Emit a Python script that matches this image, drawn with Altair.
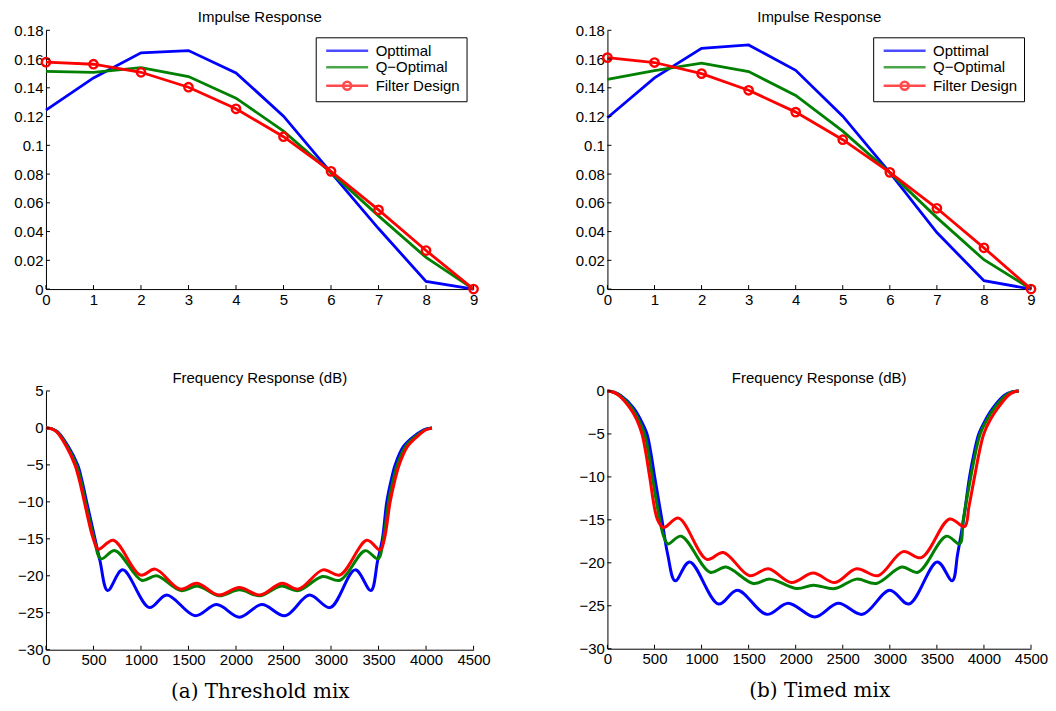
import altair as alt
import pandas as pd

SERIES = ["Opttimal", "Q−Optimal", "Filter Design"]
COLORS = ["#0000ff", "#008000", "#ff0000"]

# ---------------- impulse responses (taps 0..9) ----------------
taps = [0, 1, 2, 3, 4, 5, 6, 7, 8, 9]
a_opt = [0.1245, 0.1469, 0.1643, 0.1659, 0.1504, 0.1203, 0.0810, 0.0421, 0.0053, 0.0]
a_qopt = [0.1515, 0.1508, 0.1541, 0.1478, 0.1328, 0.1099, 0.0810, 0.0509, 0.0220, 0.0]
a_fd = [0.1578, 0.1564, 0.1508, 0.1404, 0.1254, 0.1060, 0.0819, 0.0551, 0.0268, 0.0]
b_opt = [0.1192, 0.1469, 0.1675, 0.1698, 0.1522, 0.1203, 0.0810, 0.0393, 0.0058, 0.0]
b_qopt = [0.1458, 0.1520, 0.1571, 0.1513, 0.1347, 0.1099, 0.0810, 0.0497, 0.0204, 0.0]
b_fd = [0.1610, 0.1576, 0.1499, 0.1383, 0.1231, 0.1039, 0.0812, 0.0562, 0.0287, 0.0]

# ---------------- frequency responses (Hz, dB) ----------------
# (a) Threshold mix
fa_opt_f = [0, 60, 120, 235, 333, 380, 428, 516, 569, 649, 807, 1088, 1271, 1569, 1797, 2036, 2271,
            2517, 2773, 2991, 3254, 3419, 3490, 3541, 3587, 3631, 3675, 3763, 3886, 3975, 4062]
fa_opt_db = [0, -0.12, -0.5, -2.5, -5, -7.2, -10, -15, -18, -22.0, -19.2, -24.3, -22.6, -25.4, -23.9, -25.6, -23.9,
             -25.4, -22.6, -24.3, -19.2, -22.0, -18, -15, -10, -7.2, -5, -2.5, -1, -0.25, 0]
fa_q_f = [0, 60, 115, 225, 320, 368, 416, 507, 579, 727, 1007, 1165, 1420, 1600, 1820, 2036, 2250,
          2470, 2655, 2910, 3096, 3359, 3493, 3552, 3605, 3651, 3697, 3785, 3905, 3990, 4062]
fa_q_db = [0, -0.1, -0.5, -2.5, -5, -7.2, -10, -15, -17.7, -16.6, -20.6, -20.0, -22.0, -21.4, -22.7, -21.9, -22.7,
           -21.4, -22.0, -20.1, -20.6, -16.6, -17.7, -15, -10, -7.2, -5, -2.5, -1, -0.25, 0]
fa_fd_f = [0, 55, 110, 215, 305, 354, 404, 498, 551, 709, 995, 1150, 1411, 1590, 1815, 2036, 2254,
           2482, 2657, 2915, 3093, 3377, 3517, 3562, 3622, 3670, 3717, 3805, 3921, 4000, 4062]
fa_fd_db = [0, -0.1, -0.5, -2.5, -5, -7.2, -10, -15, -16.4, -15.2, -19.9, -19.1, -21.8, -21.0, -22.6, -21.6, -22.6,
            -21.0, -21.8, -19.2, -19.9, -15.2, -16.5, -15, -10, -7.2, -5, -2.5, -1, -0.25, 0]

# (b) Timed mix
fb_opt_f = [0, 70, 138, 279, 350, 420, 461, 502, 579, 640, 720, 873, 1180, 1380, 1692, 1921, 2204,
            2451, 2709, 2999, 3203, 3504, 3663, 3720, 3783, 3847, 3896, 3945, 4020, 4094, 4218, 4295, 4370]
fb_opt_db = [0, -0.15, -0.5, -2, -3.3, -5, -7.2, -10, -15, -19, -22.1, -19.9, -24.8, -23.2, -26.0, -24.7, -26.3,
             -24.7, -26.0, -23.2, -24.8, -19.9, -22.1, -19, -15, -10, -7.2, -5, -3.3, -2, -0.5, -0.12, 0]
fb_q_f = [0, 68, 135, 260, 330, 395, 436, 477, 556, 600, 643, 784, 1091, 1261, 1550, 1727, 2013, 2186,
          2416, 2646, 2857, 3126, 3299, 3600, 3741, 3780, 3860, 3910, 3960, 4035, 4110, 4235, 4300, 4370]
fb_q_db = [0, -0.15, -0.55, -2, -3.3, -5, -7.2, -10, -15, -17, -17.8, -16.9, -21.1, -20.5, -22.4, -21.9, -23.0,
           -22.6, -23.0, -21.9, -22.4, -20.5, -21.1, -16.9, -17.8, -15, -10, -7.2, -5, -3.3, -2, -0.5, -0.12, 0]
fb_fd_f = [0, 65, 130, 240, 310, 367, 408, 449, 533, 597, 756, 1056, 1232, 1510, 1709, 1957, 2186,
           2416, 2646, 2875, 3140, 3335, 3635, 3794, 3840, 3900, 3949, 3998, 4070, 4147, 4260, 4320, 4370]
fb_fd_db = [0, -0.15, -0.6, -2, -3.3, -5, -7.2, -10, -15, -15.9, -14.8, -19.6, -18.8, -21.5, -20.7, -22.3, -21.2,
            -22.3, -20.7, -21.5, -18.7, -19.4, -14.9, -15.8, -13.5, -10, -7.2, -5, -3.3, -2, -0.5, -0.12, 0]

# tick values
imp_y_ticks = [0, 0.02, 0.04, 0.06, 0.08, 0.1, 0.12, 0.14, 0.16, 0.18]
freq_x_ticks = [0, 500, 1000, 1500, 2000, 2500, 3000, 3500, 4000, 4500]
fa_y_ticks = [-30, -25, -20, -15, -10, -5, 0, 5]
fb_y_ticks = [-30, -25, -20, -15, -10, -5, 0]

FONT = "Liberation Sans"
FS = 15
TICK = 4

# legend symbols (unit = half of sqrt(symbolSize) = 4 px): 42 px line, circle r = 4 px
LEG_SIZE = 64
LINE_ONLY = "M-5.25,0L5.25,0"
LINE_CIRCLE = "M-5.25,0L5.25,0M-1,0A1,1,0,1,1,1,0A1,1,0,1,1,-1,0"
LEGEND_SHAPES = [LINE_ONLY, LINE_ONLY, LINE_CIRCLE]


def axis(values, fmt, title=None, minext=None):
    kw = dict(values=values, format=fmt, ticks=False, grid=False, labelPadding=3,
              domainColor="black", domainWidth=1, labelColor="black", labelFont=FONT,
              labelFontSize=FS, labelFlush=False, labelOverlap=False)
    if minext is not None:
        kw["minExtent"] = minext
    if title is not None:
        kw.update(title=title, titleFont="DejaVu Serif", titleFontSize=20, titleFontWeight="normal",
                  titleColor="black", titlePadding=14)
    else:
        kw["title"] = None
    return alt.Axis(**kw)


def tick_layers(xticks, yticks, xfield, yfield, xscale, yscale, xaxis, yaxis, h):
    # inward-pointing tick marks (MATLAB style), drawn from the tick values
    xt = alt.Chart(pd.DataFrame({xfield: xticks})).mark_rule(color="black", strokeWidth=1).encode(
        x=alt.X(f"{xfield}:Q", scale=xscale, axis=xaxis), y=alt.value(h), y2=alt.value(h - TICK))
    yt = alt.Chart(pd.DataFrame({yfield: yticks})).mark_rule(color="black", strokeWidth=1).encode(
        y=alt.Y(f"{yfield}:Q", scale=yscale, axis=yaxis), x=alt.value(0), x2=alt.value(TICK))
    return [xt, yt]


def impulse_panel(opt, qopt, fd, w, h):
    df = pd.DataFrame({
        "n": taps * 3,
        "h": opt + qopt + fd,
        "series": [s for s in SERIES for _ in taps],
    })
    xscale = alt.Scale(domain=[0, 9], nice=False, zero=False)
    yscale = alt.Scale(domain=[0, 0.18], nice=False)
    xaxis = axis(taps, "d")
    yaxis = axis(imp_y_ticks, "~g", minext=32)
    X = alt.X("n:Q", scale=xscale, axis=xaxis)
    Y = alt.Y("h:Q", scale=yscale, axis=yaxis)
    legend = alt.Legend(
        title=None, orient="top-right", offset=7, padding=6, symbolOffset=18,
        strokeColor="black", fillColor="white", cornerRadius=0,
        symbolSize=LEG_SIZE, symbolStrokeWidth=2.5, symbolFillColor="transparent",
        labelFont=FONT, labelFontSize=FS, labelColor="black", labelOffset=21, rowPadding=0.5,
    )
    color = alt.Color("series:N", scale=alt.Scale(domain=SERIES, range=COLORS), legend=legend)
    shape = alt.Shape("series:N", scale=alt.Scale(domain=SERIES, range=LEGEND_SHAPES), legend=legend)
    base = alt.Chart(df)
    layers = []
    for s in SERIES:
        layers.append(base.transform_filter(alt.datum.series == s).mark_line(strokeWidth=2.8)
                      .encode(x=X, y=Y, color=color))
    # legend-only layer (no rows) carrying the legend symbol shapes
    layers.append(base.transform_filter("false").mark_point(filled=False, strokeWidth=2.5)
                  .encode(x=X, y=Y, color=color, shape=shape))
    layers.append(base.transform_filter(alt.datum.series == "Filter Design")
                  .mark_point(shape="circle", filled=False, size=70, strokeWidth=2.4, color="#ff0000", opacity=1)
                  .encode(x=X, y=Y))
    layers += tick_layers(taps, imp_y_ticks, "n", "h", xscale, yscale, xaxis, yaxis, h)
    return alt.layer(*layers).properties(width=w, height=h, title="Impulse Response")


def freq_panel(curves, ydom, yticks, caption, w, h):
    rows = []
    for s, (fs, dbs) in zip(SERIES, curves):
        for f, d in zip(fs, dbs):
            rows.append({"f": f, "db": d, "series": s})
    df = pd.DataFrame(rows)
    xscale = alt.Scale(domain=[0, 4500], nice=False, zero=False)
    yscale = alt.Scale(domain=ydom, nice=False, zero=False)
    xaxis = axis(freq_x_ticks, "d", title=caption)
    yaxis = axis(yticks, "d", minext=32)
    X = alt.X("f:Q", scale=xscale, axis=xaxis)
    Y = alt.Y("db:Q", scale=yscale, axis=yaxis)
    color = alt.Color("series:N", scale=alt.Scale(domain=SERIES, range=COLORS), legend=None)
    base = alt.Chart(df)
    layers = []
    for s in SERIES:
        layers.append(base.transform_filter(alt.datum.series == s)
                      .mark_line(strokeWidth=3, interpolate="catmull-rom")
                      .encode(x=X, y=Y, color=color))
    layers += tick_layers(freq_x_ticks, yticks, "f", "db", xscale, yscale, xaxis, yaxis, h)
    return alt.layer(*layers).properties(width=w, height=h, title="Frequency Response (dB)")


tl = impulse_panel(a_opt, a_qopt, a_fd, 428, 259)
tr = impulse_panel(b_opt, b_qopt, b_fd, 424, 259)
bl = freq_panel([(fa_opt_f, fa_opt_db), (fa_q_f, fa_q_db), (fa_fd_f, fa_fd_db)],
                [-30, 5], fa_y_ticks, "(a) Threshold mix", 428, 259)
br = freq_panel([(fb_opt_f, fb_opt_db), (fb_q_f, fb_q_db), (fb_fd_f, fb_fd_db)],
                [-30, 0], fb_y_ticks, "(b) Timed mix", 424, 258)

top = alt.hconcat(tl, tr, spacing=92).resolve_scale(color="independent", shape="independent")
bottom = alt.hconcat(bl, br, spacing=85).resolve_scale(color="independent")

chart = alt.vconcat(top, bottom, spacing=64).resolve_scale(
    color="independent", shape="independent"
).properties(
    padding={"left": 5, "top": 2, "right": 0, "bottom": 0}
).configure_view(stroke=None).configure_title(
    font=FONT, fontSize=FS, fontWeight="normal", color="black", offset=-2
)

chart.save("out.html", embed_options={"renderer": "svg", "actions": False})
